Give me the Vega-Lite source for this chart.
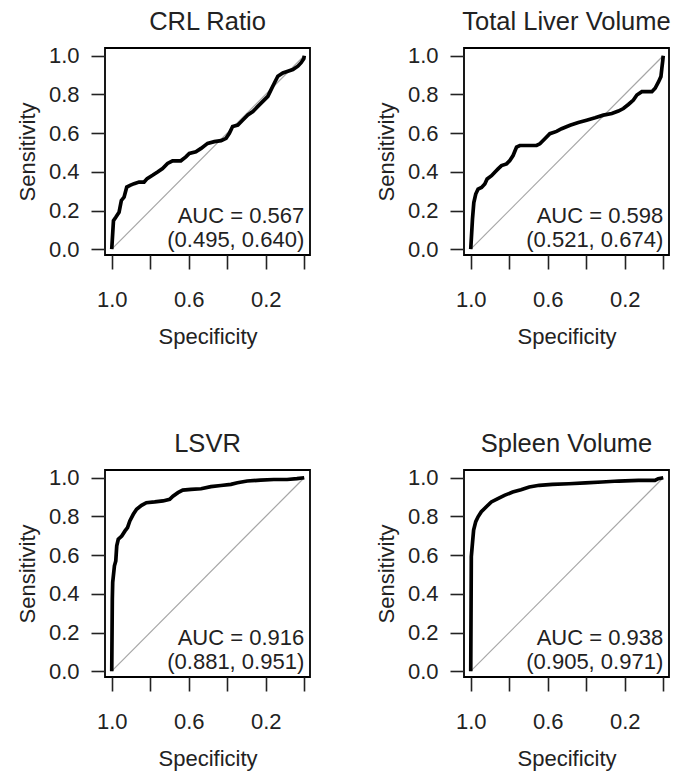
{
  "$schema": "https://vega.github.io/schema/vega-lite/v6.json",
  "background": "white",
  "padding": {"left": 15, "top": 9, "right": 5, "bottom": 5},
  "bounds": "flush",
  "columns": 2,
  "spacing": {"row": 215, "column": 154},
  "datasets": {
    "roc": [
      {"p": "CRL Ratio", "spec": 1.0, "sens": 0.0},
      {"p": "CRL Ratio", "spec": 0.991, "sens": 0.148},
      {"p": "CRL Ratio", "spec": 0.979, "sens": 0.165},
      {"p": "CRL Ratio", "spec": 0.962, "sens": 0.191},
      {"p": "CRL Ratio", "spec": 0.95, "sens": 0.252},
      {"p": "CRL Ratio", "spec": 0.936, "sens": 0.269},
      {"p": "CRL Ratio", "spec": 0.922, "sens": 0.321},
      {"p": "CRL Ratio", "spec": 0.905, "sens": 0.33},
      {"p": "CRL Ratio", "spec": 0.884, "sens": 0.339},
      {"p": "CRL Ratio", "spec": 0.858, "sens": 0.347},
      {"p": "CRL Ratio", "spec": 0.832, "sens": 0.347},
      {"p": "CRL Ratio", "spec": 0.816, "sens": 0.365},
      {"p": "CRL Ratio", "spec": 0.788, "sens": 0.382},
      {"p": "CRL Ratio", "spec": 0.762, "sens": 0.399},
      {"p": "CRL Ratio", "spec": 0.736, "sens": 0.417},
      {"p": "CRL Ratio", "spec": 0.71, "sens": 0.443},
      {"p": "CRL Ratio", "spec": 0.684, "sens": 0.457},
      {"p": "CRL Ratio", "spec": 0.641, "sens": 0.457},
      {"p": "CRL Ratio", "spec": 0.615, "sens": 0.477},
      {"p": "CRL Ratio", "spec": 0.597, "sens": 0.495},
      {"p": "CRL Ratio", "spec": 0.563, "sens": 0.503},
      {"p": "CRL Ratio", "spec": 0.536, "sens": 0.521},
      {"p": "CRL Ratio", "spec": 0.502, "sens": 0.547},
      {"p": "CRL Ratio", "spec": 0.467, "sens": 0.556},
      {"p": "CRL Ratio", "spec": 0.432, "sens": 0.561},
      {"p": "CRL Ratio", "spec": 0.406, "sens": 0.573},
      {"p": "CRL Ratio", "spec": 0.389, "sens": 0.599},
      {"p": "CRL Ratio", "spec": 0.372, "sens": 0.634},
      {"p": "CRL Ratio", "spec": 0.345, "sens": 0.642},
      {"p": "CRL Ratio", "spec": 0.319, "sens": 0.668},
      {"p": "CRL Ratio", "spec": 0.293, "sens": 0.694},
      {"p": "CRL Ratio", "spec": 0.267, "sens": 0.712},
      {"p": "CRL Ratio", "spec": 0.241, "sens": 0.738},
      {"p": "CRL Ratio", "spec": 0.215, "sens": 0.764},
      {"p": "CRL Ratio", "spec": 0.189, "sens": 0.79},
      {"p": "CRL Ratio", "spec": 0.172, "sens": 0.825},
      {"p": "CRL Ratio", "spec": 0.155, "sens": 0.859},
      {"p": "CRL Ratio", "spec": 0.137, "sens": 0.894},
      {"p": "CRL Ratio", "spec": 0.111, "sens": 0.911},
      {"p": "CRL Ratio", "spec": 0.085, "sens": 0.92},
      {"p": "CRL Ratio", "spec": 0.059, "sens": 0.929},
      {"p": "CRL Ratio", "spec": 0.033, "sens": 0.946},
      {"p": "CRL Ratio", "spec": 0.016, "sens": 0.964},
      {"p": "CRL Ratio", "spec": 0.002, "sens": 0.985},
      {"p": "CRL Ratio", "spec": 0.0, "sens": 1.0},

      {"p": "Total Liver Volume", "spec": 1.0, "sens": 0.0},
      {"p": "Total Liver Volume", "spec": 0.991, "sens": 0.155},
      {"p": "Total Liver Volume", "spec": 0.984, "sens": 0.241},
      {"p": "Total Liver Volume", "spec": 0.974, "sens": 0.285},
      {"p": "Total Liver Volume", "spec": 0.962, "sens": 0.311},
      {"p": "Total Liver Volume", "spec": 0.944, "sens": 0.319},
      {"p": "Total Liver Volume", "spec": 0.927, "sens": 0.337},
      {"p": "Total Liver Volume", "spec": 0.915, "sens": 0.363},
      {"p": "Total Liver Volume", "spec": 0.892, "sens": 0.38},
      {"p": "Total Liver Volume", "spec": 0.875, "sens": 0.398},
      {"p": "Total Liver Volume", "spec": 0.858, "sens": 0.415},
      {"p": "Total Liver Volume", "spec": 0.84, "sens": 0.432},
      {"p": "Total Liver Volume", "spec": 0.814, "sens": 0.441},
      {"p": "Total Liver Volume", "spec": 0.797, "sens": 0.458},
      {"p": "Total Liver Volume", "spec": 0.78, "sens": 0.484},
      {"p": "Total Liver Volume", "spec": 0.762, "sens": 0.528},
      {"p": "Total Liver Volume", "spec": 0.745, "sens": 0.536},
      {"p": "Total Liver Volume", "spec": 0.658, "sens": 0.536},
      {"p": "Total Liver Volume", "spec": 0.641, "sens": 0.545},
      {"p": "Total Liver Volume", "spec": 0.615, "sens": 0.571},
      {"p": "Total Liver Volume", "spec": 0.589, "sens": 0.597},
      {"p": "Total Liver Volume", "spec": 0.554, "sens": 0.609},
      {"p": "Total Liver Volume", "spec": 0.528, "sens": 0.623},
      {"p": "Total Liver Volume", "spec": 0.484, "sens": 0.641},
      {"p": "Total Liver Volume", "spec": 0.441, "sens": 0.655},
      {"p": "Total Liver Volume", "spec": 0.398, "sens": 0.667},
      {"p": "Total Liver Volume", "spec": 0.354, "sens": 0.679},
      {"p": "Total Liver Volume", "spec": 0.311, "sens": 0.693},
      {"p": "Total Liver Volume", "spec": 0.267, "sens": 0.701},
      {"p": "Total Liver Volume", "spec": 0.233, "sens": 0.714},
      {"p": "Total Liver Volume", "spec": 0.207, "sens": 0.727},
      {"p": "Total Liver Volume", "spec": 0.181, "sens": 0.748},
      {"p": "Total Liver Volume", "spec": 0.155, "sens": 0.771},
      {"p": "Total Liver Volume", "spec": 0.137, "sens": 0.797},
      {"p": "Total Liver Volume", "spec": 0.111, "sens": 0.814},
      {"p": "Total Liver Volume", "spec": 0.059, "sens": 0.814},
      {"p": "Total Liver Volume", "spec": 0.042, "sens": 0.832},
      {"p": "Total Liver Volume", "spec": 0.024, "sens": 0.866},
      {"p": "Total Liver Volume", "spec": 0.012, "sens": 0.892},
      {"p": "Total Liver Volume", "spec": 0.007, "sens": 0.936},
      {"p": "Total Liver Volume", "spec": 0.003, "sens": 0.97},
      {"p": "Total Liver Volume", "spec": 0.0, "sens": 1.0},

      {"p": "LSVR", "spec": 1.0, "sens": 0.0},
      {"p": "LSVR", "spec": 0.997, "sens": 0.373},
      {"p": "LSVR", "spec": 0.995, "sens": 0.459},
      {"p": "LSVR", "spec": 0.986, "sens": 0.545},
      {"p": "LSVR", "spec": 0.979, "sens": 0.57},
      {"p": "LSVR", "spec": 0.974, "sens": 0.648},
      {"p": "LSVR", "spec": 0.966, "sens": 0.682},
      {"p": "LSVR", "spec": 0.948, "sens": 0.699},
      {"p": "LSVR", "spec": 0.931, "sens": 0.725},
      {"p": "LSVR", "spec": 0.918, "sens": 0.742},
      {"p": "LSVR", "spec": 0.906, "sens": 0.777},
      {"p": "LSVR", "spec": 0.888, "sens": 0.811},
      {"p": "LSVR", "spec": 0.871, "sens": 0.837},
      {"p": "LSVR", "spec": 0.845, "sens": 0.857},
      {"p": "LSVR", "spec": 0.82, "sens": 0.871},
      {"p": "LSVR", "spec": 0.777, "sens": 0.875},
      {"p": "LSVR", "spec": 0.734, "sens": 0.88},
      {"p": "LSVR", "spec": 0.699, "sens": 0.888},
      {"p": "LSVR", "spec": 0.682, "sens": 0.905},
      {"p": "LSVR", "spec": 0.656, "sens": 0.923},
      {"p": "LSVR", "spec": 0.631, "sens": 0.936},
      {"p": "LSVR", "spec": 0.588, "sens": 0.94},
      {"p": "LSVR", "spec": 0.536, "sens": 0.943},
      {"p": "LSVR", "spec": 0.485, "sens": 0.954},
      {"p": "LSVR", "spec": 0.433, "sens": 0.96},
      {"p": "LSVR", "spec": 0.381, "sens": 0.966},
      {"p": "LSVR", "spec": 0.347, "sens": 0.974},
      {"p": "LSVR", "spec": 0.296, "sens": 0.983},
      {"p": "LSVR", "spec": 0.227, "sens": 0.988},
      {"p": "LSVR", "spec": 0.158, "sens": 0.991},
      {"p": "LSVR", "spec": 0.089, "sens": 0.991},
      {"p": "LSVR", "spec": 0.038, "sens": 0.995},
      {"p": "LSVR", "spec": 0.0, "sens": 1.0},

      {"p": "Spleen Volume", "spec": 1.0, "sens": 0.0},
      {"p": "Spleen Volume", "spec": 0.997, "sens": 0.593},
      {"p": "Spleen Volume", "spec": 0.991, "sens": 0.662},
      {"p": "Spleen Volume", "spec": 0.985, "sens": 0.73},
      {"p": "Spleen Volume", "spec": 0.974, "sens": 0.773},
      {"p": "Spleen Volume", "spec": 0.962, "sens": 0.798},
      {"p": "Spleen Volume", "spec": 0.945, "sens": 0.824},
      {"p": "Spleen Volume", "spec": 0.919, "sens": 0.85},
      {"p": "Spleen Volume", "spec": 0.893, "sens": 0.875},
      {"p": "Spleen Volume", "spec": 0.859, "sens": 0.892},
      {"p": "Spleen Volume", "spec": 0.825, "sens": 0.909},
      {"p": "Spleen Volume", "spec": 0.782, "sens": 0.926},
      {"p": "Spleen Volume", "spec": 0.739, "sens": 0.938},
      {"p": "Spleen Volume", "spec": 0.696, "sens": 0.952},
      {"p": "Spleen Volume", "spec": 0.644, "sens": 0.961},
      {"p": "Spleen Volume", "spec": 0.576, "sens": 0.966},
      {"p": "Spleen Volume", "spec": 0.49, "sens": 0.969},
      {"p": "Spleen Volume", "spec": 0.404, "sens": 0.973},
      {"p": "Spleen Volume", "spec": 0.318, "sens": 0.978},
      {"p": "Spleen Volume", "spec": 0.232, "sens": 0.983},
      {"p": "Spleen Volume", "spec": 0.129, "sens": 0.986},
      {"p": "Spleen Volume", "spec": 0.043, "sens": 0.986},
      {"p": "Spleen Volume", "spec": 0.026, "sens": 0.995},
      {"p": "Spleen Volume", "spec": 0.0, "sens": 1.0}
    ],
    "auc": [
      {"p": "CRL Ratio", "label": ["AUC = 0.567", "(0.495, 0.640)"]},
      {"p": "Total Liver Volume", "label": ["AUC = 0.598", "(0.521, 0.674)"]},
      {"p": "LSVR", "label": ["AUC = 0.916", "(0.881, 0.951)"]},
      {"p": "Spleen Volume", "label": ["AUC = 0.938", "(0.905, 0.971)"]}
    ]
  },
  "concat": [
    {
      "title": "CRL Ratio",
      "width": 205, "height": 207,
      "layer": [
        {"data": {"name": "auc"}, "transform": [{"filter": "datum.p == 'CRL Ratio'"}],
         "mark": {"type": "rule", "color": "#a6a6a6", "strokeWidth": 1.2},
         "encoding": {"x": {"datum": 1, "type": "quantitative"}, "y": {"datum": 0, "type": "quantitative"}, "x2": {"datum": 0}, "y2": {"datum": 1}}},
        {"data": {"name": "roc"}, "transform": [{"filter": "datum.p == 'CRL Ratio'"}],
         "mark": {"type": "line", "color": "black", "strokeWidth": 3.7, "strokeJoin": "miter"},
         "encoding": {
           "x": {"field": "spec", "type": "quantitative", "scale": {"domain": [-0.03, 1.035], "reverse": true, "nice": false, "zero": false}, "axis": {"title": "Specificity", "values": [0, 0.2, 0.4, 0.6, 0.8, 1], "labelExpr": "datum.value > 0.95 || abs(datum.value - 0.6) < 0.01 || abs(datum.value - 0.2) < 0.01 ? format(datum.value, '.1f') : ''"}},
           "y": {"field": "sens", "type": "quantitative", "scale": {"domain": [-0.03, 1.04], "nice": false, "zero": false}, "axis": {"title": "Sensitivity", "values": [0, 0.2, 0.4, 0.6, 0.8, 1], "format": ".1f"}}
         }},
        {"data": {"name": "auc"}, "transform": [{"filter": "datum.p == 'CRL Ratio'"}],
         "mark": {"type": "text", "align": "right", "baseline": "alphabetic", "fontSize": 22, "lineHeight": 24, "color": "#222"},
         "encoding": {"x": {"datum": 0, "type": "quantitative"}, "y": {"datum": 0.135, "type": "quantitative"}, "text": {"field": "label"}}}
      ]
    },
    {
      "title": "Total Liver Volume",
      "width": 205, "height": 207,
      "layer": [
        {"data": {"name": "auc"}, "transform": [{"filter": "datum.p == 'Total Liver Volume'"}],
         "mark": {"type": "rule", "color": "#a6a6a6", "strokeWidth": 1.2},
         "encoding": {"x": {"datum": 1, "type": "quantitative"}, "y": {"datum": 0, "type": "quantitative"}, "x2": {"datum": 0}, "y2": {"datum": 1}}},
        {"data": {"name": "roc"}, "transform": [{"filter": "datum.p == 'Total Liver Volume'"}],
         "mark": {"type": "line", "color": "black", "strokeWidth": 3.7, "strokeJoin": "miter"},
         "encoding": {
           "x": {"field": "spec", "type": "quantitative", "scale": {"domain": [-0.03, 1.035], "reverse": true, "nice": false, "zero": false}, "axis": {"title": "Specificity", "values": [0, 0.2, 0.4, 0.6, 0.8, 1], "labelExpr": "datum.value > 0.95 || abs(datum.value - 0.6) < 0.01 || abs(datum.value - 0.2) < 0.01 ? format(datum.value, '.1f') : ''"}},
           "y": {"field": "sens", "type": "quantitative", "scale": {"domain": [-0.03, 1.04], "nice": false, "zero": false}, "axis": {"title": "Sensitivity", "values": [0, 0.2, 0.4, 0.6, 0.8, 1], "format": ".1f"}}
         }},
        {"data": {"name": "auc"}, "transform": [{"filter": "datum.p == 'Total Liver Volume'"}],
         "mark": {"type": "text", "align": "right", "baseline": "alphabetic", "fontSize": 22, "lineHeight": 24, "color": "#222"},
         "encoding": {"x": {"datum": 0, "type": "quantitative"}, "y": {"datum": 0.135, "type": "quantitative"}, "text": {"field": "label"}}}
      ]
    },
    {
      "title": "LSVR",
      "width": 205, "height": 207,
      "layer": [
        {"data": {"name": "auc"}, "transform": [{"filter": "datum.p == 'LSVR'"}],
         "mark": {"type": "rule", "color": "#a6a6a6", "strokeWidth": 1.2},
         "encoding": {"x": {"datum": 1, "type": "quantitative"}, "y": {"datum": 0, "type": "quantitative"}, "x2": {"datum": 0}, "y2": {"datum": 1}}},
        {"data": {"name": "roc"}, "transform": [{"filter": "datum.p == 'LSVR'"}],
         "mark": {"type": "line", "color": "black", "strokeWidth": 3.7, "strokeJoin": "miter"},
         "encoding": {
           "x": {"field": "spec", "type": "quantitative", "scale": {"domain": [-0.03, 1.035], "reverse": true, "nice": false, "zero": false}, "axis": {"title": "Specificity", "values": [0, 0.2, 0.4, 0.6, 0.8, 1], "labelExpr": "datum.value > 0.95 || abs(datum.value - 0.6) < 0.01 || abs(datum.value - 0.2) < 0.01 ? format(datum.value, '.1f') : ''"}},
           "y": {"field": "sens", "type": "quantitative", "scale": {"domain": [-0.03, 1.04], "nice": false, "zero": false}, "axis": {"title": "Sensitivity", "values": [0, 0.2, 0.4, 0.6, 0.8, 1], "format": ".1f"}}
         }},
        {"data": {"name": "auc"}, "transform": [{"filter": "datum.p == 'LSVR'"}],
         "mark": {"type": "text", "align": "right", "baseline": "alphabetic", "fontSize": 22, "lineHeight": 24, "color": "#222"},
         "encoding": {"x": {"datum": 0, "type": "quantitative"}, "y": {"datum": 0.135, "type": "quantitative"}, "text": {"field": "label"}}}
      ]
    },
    {
      "title": "Spleen Volume",
      "width": 205, "height": 207,
      "layer": [
        {"data": {"name": "auc"}, "transform": [{"filter": "datum.p == 'Spleen Volume'"}],
         "mark": {"type": "rule", "color": "#a6a6a6", "strokeWidth": 1.2},
         "encoding": {"x": {"datum": 1, "type": "quantitative"}, "y": {"datum": 0, "type": "quantitative"}, "x2": {"datum": 0}, "y2": {"datum": 1}}},
        {"data": {"name": "roc"}, "transform": [{"filter": "datum.p == 'Spleen Volume'"}],
         "mark": {"type": "line", "color": "black", "strokeWidth": 3.7, "strokeJoin": "miter"},
         "encoding": {
           "x": {"field": "spec", "type": "quantitative", "scale": {"domain": [-0.03, 1.035], "reverse": true, "nice": false, "zero": false}, "axis": {"title": "Specificity", "values": [0, 0.2, 0.4, 0.6, 0.8, 1], "labelExpr": "datum.value > 0.95 || abs(datum.value - 0.6) < 0.01 || abs(datum.value - 0.2) < 0.01 ? format(datum.value, '.1f') : ''"}},
           "y": {"field": "sens", "type": "quantitative", "scale": {"domain": [-0.03, 1.04], "nice": false, "zero": false}, "axis": {"title": "Sensitivity", "values": [0, 0.2, 0.4, 0.6, 0.8, 1], "format": ".1f"}}
         }},
        {"data": {"name": "auc"}, "transform": [{"filter": "datum.p == 'Spleen Volume'"}],
         "mark": {"type": "text", "align": "right", "baseline": "alphabetic", "fontSize": 22, "lineHeight": 24, "color": "#222"},
         "encoding": {"x": {"datum": 0, "type": "quantitative"}, "y": {"datum": 0.135, "type": "quantitative"}, "text": {"field": "label"}}}
      ]
    }
  ],
  "config": {
    "font": "Liberation Sans",
    "view": {"stroke": "black", "strokeWidth": 1.8},
    "axis": {
      "grid": false, "domain": false,
      "labelFont": "Liberation Sans", "titleFont": "Liberation Sans",
      "labelFontSize": 22, "titleFontSize": 22,
      "labelColor": "#222", "titleColor": "#222", "tickColor": "#222",
      "tickSize": 14, "tickWidth": 1.6,
      "titleFontWeight": "normal",
      "labelFlush": false, "labelOverlap": false
    },
    "axisX": {"labelPadding": 37, "labelBaseline": "alphabetic", "titleBaseline": "alphabetic", "titleY": 88},
    "axisY": {"labelPadding": 12, "titleX": -71, "titleBaseline": "alphabetic", "titleAngle": -90},
    "title": {"font": "Liberation Sans", "fontSize": 25.5, "fontWeight": "normal", "color": "#222", "offset": 9, "anchor": "middle", "frame": "group"}
  }
}
